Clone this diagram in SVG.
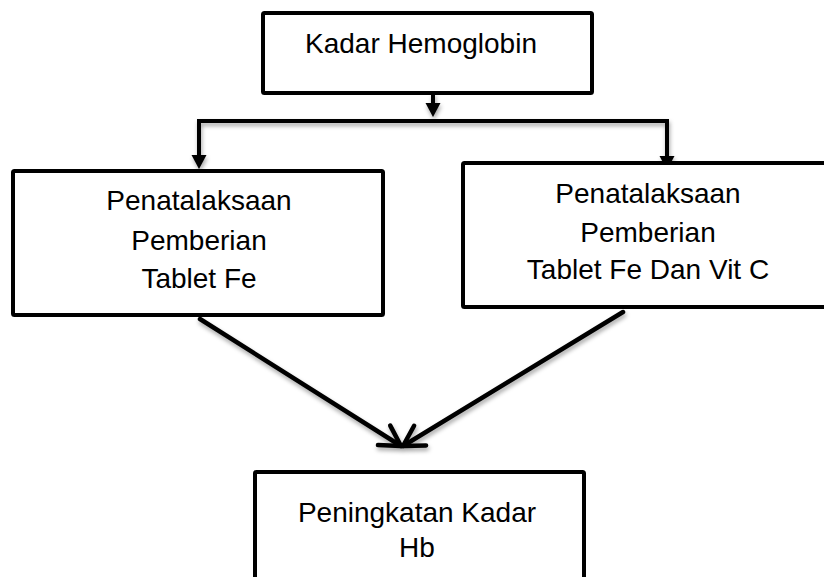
<svg xmlns="http://www.w3.org/2000/svg" width="824" height="577" viewBox="0 0 824 577">
<style>
  .box { fill: #ffffff; stroke: #000000; stroke-width: 4; }
  .lbl { font-family: "Liberation Sans", Arial, sans-serif; font-size: 28px; fill: #000000; text-anchor: middle; }
  .conn { fill: none; stroke: #000000; stroke-width: 4; }
  .diag { fill: none; stroke: #000000; stroke-width: 4.5; stroke-linecap: round; }
</style>
<defs>
  <marker id="tri" markerUnits="userSpaceOnUse" markerWidth="16" markerHeight="16" refX="0" refY="7.5" orient="auto" overflow="visible">
    <path d="M0,0 L14,7.5 L0,15 Z" fill="#000000"/>
  </marker>
  <marker id="vee" markerUnits="userSpaceOnUse" markerWidth="30" markerHeight="30" refX="0" refY="0" orient="auto" overflow="visible">
    <path d="M-20,-11.5 L0,0 L-20,11.5" fill="none" stroke="#000000" stroke-width="4.5" stroke-linecap="round" stroke-linejoin="round"/>
  </marker>
  <filter id="shadow" x="-10%" y="-10%" width="120%" height="130%">
    <feDropShadow dx="1" dy="3" stdDeviation="2" flood-color="#000000" flood-opacity="0.35"/>
  </filter>
</defs>
<rect width="824" height="577" fill="#ffffff"/>

<g id="connectors" filter="url(#shadow)">
  <path class="conn" d="M433,93 L433,103" marker-end="url(#tri)"/>
  <path class="conn" d="M199,156 L199,121 L667,121 L667,157"/>
  <path class="conn" d="M199,121 L199,155" marker-end="url(#tri)"/>
  <path class="conn" d="M667,121 L667,156" marker-end="url(#tri)"/>
  <path class="diag" d="M200,319 L401,446" marker-end="url(#vee)"/>
  <path class="diag" d="M623,312 L403,446" marker-end="url(#vee)"/>
</g>

<g id="node-kadar-hemoglobin">
  <rect class="box" x="263" y="13" width="329" height="80" rx="1.5"/>
  <text class="lbl" x="421" y="53">Kadar Hemoglobin</text>
</g>

<g id="node-tablet-fe">
  <rect class="box" x="13" y="171" width="370" height="144" rx="1.5"/>
  <text class="lbl" x="199" y="210">Penatalaksaan</text>
  <text class="lbl" x="199" y="250">Pemberian</text>
  <text class="lbl" x="199" y="288">Tablet Fe</text>
</g>

<g id="node-tablet-fe-vit-c">
  <rect class="box" x="463" y="163" width="372" height="144" rx="1.5"/>
  <text class="lbl" x="648" y="203">Penatalaksaan</text>
  <text class="lbl" x="648" y="242">Pemberian</text>
  <text class="lbl" x="648" y="279">Tablet Fe Dan Vit C</text>
</g>

<g id="node-peningkatan">
  <rect class="box" x="255" y="472" width="329" height="120" rx="1.5"/>
  <text class="lbl" x="417" y="522">Peningkatan Kadar</text>
  <text class="lbl" x="417" y="557">Hb</text>
</g>
</svg>
